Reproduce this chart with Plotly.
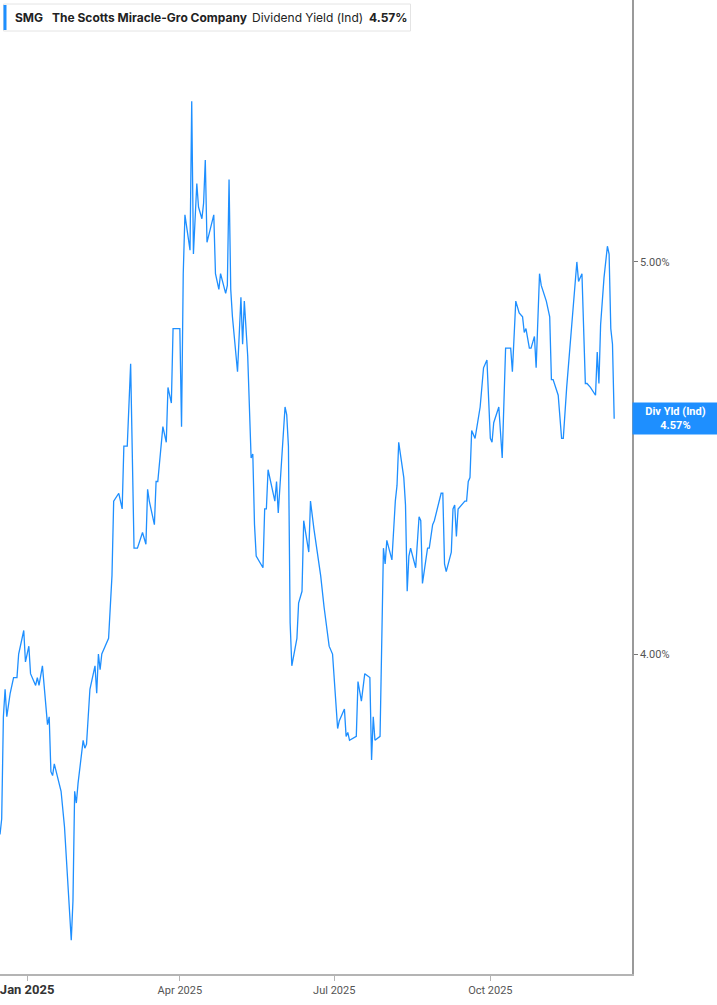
import plotly.graph_objects as go

# SMG indicated dividend yield (percent)
dates = [
    "2024-12-16", "2024-12-17", "2024-12-18", "2024-12-19", "2024-12-20", "2024-12-22",
    "2024-12-24", "2024-12-26", "2024-12-27", "2024-12-30", "2024-12-31",
    "2025-01-02", "2025-01-03", "2025-01-06", "2025-01-07", "2025-01-08", "2025-01-10",
    "2025-01-13", "2025-01-14", "2025-01-15", "2025-01-16", "2025-01-17", "2025-01-21",
    "2025-01-23", "2025-01-27", "2025-01-28", "2025-01-29", "2025-01-30", "2025-01-31",
    "2025-02-03", "2025-02-04", "2025-02-05", "2025-02-07", "2025-02-10", "2025-02-11",
    "2025-02-12", "2025-02-13", "2025-02-14", "2025-02-18", "2025-02-19", "2025-02-20",
    "2025-02-21", "2025-02-24", "2025-02-26", "2025-02-27",
    "2025-03-01", "2025-03-03", "2025-03-05", "2025-03-07", "2025-03-10", "2025-03-12",
    "2025-03-13", "2025-03-14", "2025-03-17", "2025-03-18", "2025-03-19", "2025-03-22",
    "2025-03-24", "2025-03-25", "2025-03-27", "2025-03-28", "2025-03-31",
    "2025-04-01", "2025-04-02", "2025-04-03", "2025-04-04", "2025-04-07", "2025-04-08",
    "2025-04-09", "2025-04-11", "2025-04-12", "2025-04-14", "2025-04-15", "2025-04-16",
    "2025-04-17", "2025-04-21", "2025-04-22", "2025-04-24", "2025-04-25", "2025-04-28",
    "2025-04-29", "2025-04-30",
    "2025-05-01", "2025-05-02", "2025-05-05", "2025-05-07", "2025-05-08", "2025-05-09",
    "2025-05-11", "2025-05-13", "2025-05-14", "2025-05-15", "2025-05-16", "2025-05-20",
    "2025-05-21", "2025-05-22", "2025-05-23", "2025-05-27", "2025-05-28", "2025-05-29",
    "2025-05-31",
    "2025-06-02", "2025-06-03", "2025-06-04", "2025-06-05", "2025-06-06", "2025-06-09",
    "2025-06-10", "2025-06-12", "2025-06-13", "2025-06-16", "2025-06-17", "2025-06-19",
    "2025-06-23", "2025-06-25", "2025-06-28", "2025-06-30",
    "2025-07-03", "2025-07-04", "2025-07-07", "2025-07-08", "2025-07-09", "2025-07-10",
    "2025-07-14", "2025-07-15", "2025-07-17", "2025-07-19", "2025-07-22", "2025-07-23",
    "2025-07-24", "2025-07-25", "2025-07-28", "2025-07-30", "2025-07-31",
    "2025-08-01", "2025-08-04", "2025-08-06", "2025-08-07", "2025-08-08", "2025-08-11",
    "2025-08-12", "2025-08-13", "2025-08-14", "2025-08-15", "2025-08-18", "2025-08-20",
    "2025-08-21", "2025-08-22", "2025-08-25", "2025-08-26", "2025-08-28", "2025-08-29",
    "2025-09-02", "2025-09-03", "2025-09-04", "2025-09-05", "2025-09-08", "2025-09-09",
    "2025-09-10", "2025-09-11", "2025-09-12", "2025-09-16", "2025-09-17", "2025-09-18",
    "2025-09-19", "2025-09-20", "2025-09-22", "2025-09-24", "2025-09-25", "2025-09-27",
    "2025-09-29",
    "2025-10-01", "2025-10-02", "2025-10-03", "2025-10-06", "2025-10-08", "2025-10-10",
    "2025-10-13", "2025-10-14", "2025-10-16", "2025-10-18", "2025-10-20", "2025-10-21",
    "2025-10-22", "2025-10-24", "2025-10-25", "2025-10-27", "2025-10-28", "2025-10-30",
    "2025-10-31",
    "2025-11-03", "2025-11-05", "2025-11-06", "2025-11-07", "2025-11-10", "2025-11-12",
    "2025-11-13", "2025-11-15", "2025-11-18", "2025-11-21", "2025-11-22", "2025-11-24",
    "2025-11-26", "2025-11-27", "2025-11-29",
    "2025-12-02", "2025-12-03", "2025-12-04", "2025-12-05", "2025-12-07", "2025-12-09",
    "2025-12-10", "2025-12-11", "2025-12-12", "2025-12-13",
]

div_yield = [
    3.54, 3.58, 3.84, 3.91, 3.84, 3.90, 3.94, 3.94, 4.00, 4.06, 3.98,
    4.02, 3.95, 3.92, 3.94, 3.92, 3.97, 3.82, 3.84, 3.70, 3.69, 3.72, 3.65,
    3.56, 3.27, 3.37, 3.65, 3.62, 3.67,
    3.78, 3.76, 3.77, 3.91, 3.97, 3.90, 4.00, 3.96, 4.00, 4.04, 4.14, 4.20,
    4.39, 4.41, 4.37, 4.53,
    4.53, 4.74, 4.27, 4.27, 4.31, 4.28, 4.42, 4.39, 4.33, 4.44, 4.44, 4.58,
    4.54, 4.68, 4.64, 4.83, 4.83,
    4.83, 4.58, 4.97, 5.12, 5.03, 5.41, 5.02, 5.20, 5.14, 5.11, 5.15, 5.26,
    5.05, 5.12, 4.97, 4.93, 4.97, 4.92, 4.94, 5.21,
    4.93, 4.86, 4.72, 4.91, 4.79, 4.90, 4.76, 4.50, 4.51, 4.33, 4.25, 4.22,
    4.37, 4.37, 4.47, 4.39, 4.44, 4.36, 4.50,
    4.63, 4.61, 4.53, 4.08, 3.97, 4.04, 4.13, 4.16, 4.34, 4.26, 4.39, 4.32,
    4.20, 4.12, 4.02, 4.00,
    3.81, 3.83, 3.86, 3.79, 3.80, 3.78, 3.79, 3.93, 3.88, 3.95, 3.94, 3.73,
    3.84, 3.78, 3.79, 4.27, 4.23,
    4.29, 4.24, 4.39, 4.43, 4.54, 4.45, 4.38, 4.16, 4.25, 4.27, 4.22, 4.35,
    4.34, 4.18, 4.27, 4.27, 4.33, 4.34,
    4.41, 4.41, 4.23, 4.21, 4.26, 4.37, 4.38, 4.30, 4.37, 4.39, 4.39, 4.44,
    4.45, 4.57, 4.55, 4.60, 4.63, 4.73, 4.75,
    4.55, 4.54, 4.59, 4.63, 4.50, 4.78, 4.78, 4.72, 4.90, 4.87, 4.86, 4.82,
    4.83, 4.78, 4.78, 4.81, 4.73, 4.97, 4.94,
    4.90, 4.86, 4.70, 4.70, 4.66, 4.55, 4.55, 4.68, 4.84, 5.00, 4.95, 4.97,
    4.69, 4.69, 4.68,
    4.66, 4.77, 4.69, 4.84, 4.96, 5.04, 5.02, 4.83, 4.79, 4.60,
]

x_tick_vals = ["2025-01-01", "2025-04-01", "2025-07-01", "2025-10-01"]
x_tick_text = ["<span style='font-size:13px;color:#333333'><b>Jan 2025</b></span>",
               "Apr 2025", "Jul 2025", "Oct 2025"]
y_tick_vals = [4.0, 5.0]
y_tick_text = ["4.00%", "5.00%"]

BLUE = "#1e8fff"
W, H = 717, 1005
ML, MR, MT, MB = 0, 85, 0, 31
PW, PH = W - ML - MR, H - MT - MB


def px(x):
    return x / PW


def py(y):
    return 1 - y / PH


fig = go.Figure()
fig.add_trace(go.Scatter(
    x=dates, y=div_yield, mode="lines",
    line=dict(color=BLUE, width=1.3),
    hoverinfo="skip", showlegend=False,
))

fig.update_layout(
    width=W, height=H,
    margin=dict(l=ML, r=MR, t=MT, b=MB),
    paper_bgcolor="white", plot_bgcolor="white",
    showlegend=False,
    font=dict(family="Roboto", color="#555555"),
    xaxis=dict(
        type="date",
        range=["2024-12-16", "2025-12-23 12:00"],
        tickvals=x_tick_vals, ticktext=x_tick_text,
        ticklabeloverflow="allow",
        showgrid=False, zeroline=False,
        showline=True, linecolor="#b4b4b4", linewidth=2,
        ticks="outside", ticklen=5, tickcolor="#b4b4b4", tickwidth=1,
        tickfont=dict(family="Roboto", size=11, color="#555555"),
    ),
    yaxis=dict(
        side="right",
        range=[3.184, 5.668],
        tickvals=y_tick_vals, ticktext=y_tick_text,
        showgrid=False, zeroline=False,
        showline=True, linecolor="#9a9a9a", linewidth=1.5,
        ticks="outside", ticklen=4, tickcolor="#777777", tickwidth=1,
        tickfont=dict(family="Roboto", size=11, color="#555555"),
    ),
)

# header box
fig.add_shape(type="rect", xref="paper", yref="paper",
              x0=px(3.5), x1=px(410.5), y0=py(31), y1=py(4),
              line=dict(color="#e4e4e4", width=1), fillcolor="white", layer="above")
fig.add_shape(type="rect", xref="paper", yref="paper",
              x0=px(3.5), x1=px(6.5), y0=py(30), y1=py(5),
              line=dict(width=0), fillcolor=BLUE, layer="above")

header = [
    (13, "<b>SMG</b>"),
    (50, "<b>The Scotts Miracle-Gro Company</b>"),
    (250, "Dividend Yield (Ind)"),
    (367, "<b>4.57%</b>"),
]
for hx, txt in header:
    fig.add_annotation(xref="paper", yref="paper", x=px(hx), y=py(17.5),
                       xanchor="left", yanchor="middle", text=txt, showarrow=False,
                       font=dict(family="Inter", size=12, color="#222222"))

# last value tag on the right axis
fig.add_annotation(xref="paper", yref="y", x=1.0, y=div_yield[-1],
                   xanchor="left", yanchor="middle",
                   text="<b>Div Yld (Ind)</b><br><b>4.57%</b>", showarrow=False,
                   align="center", bgcolor=BLUE, width=81, borderpad=2,
                   font=dict(family="Roboto", size=11, color="white"))

fig.write_html("out.html", config={"displayModeBar": False},
               post_script="document.body.style.margin='0';")
